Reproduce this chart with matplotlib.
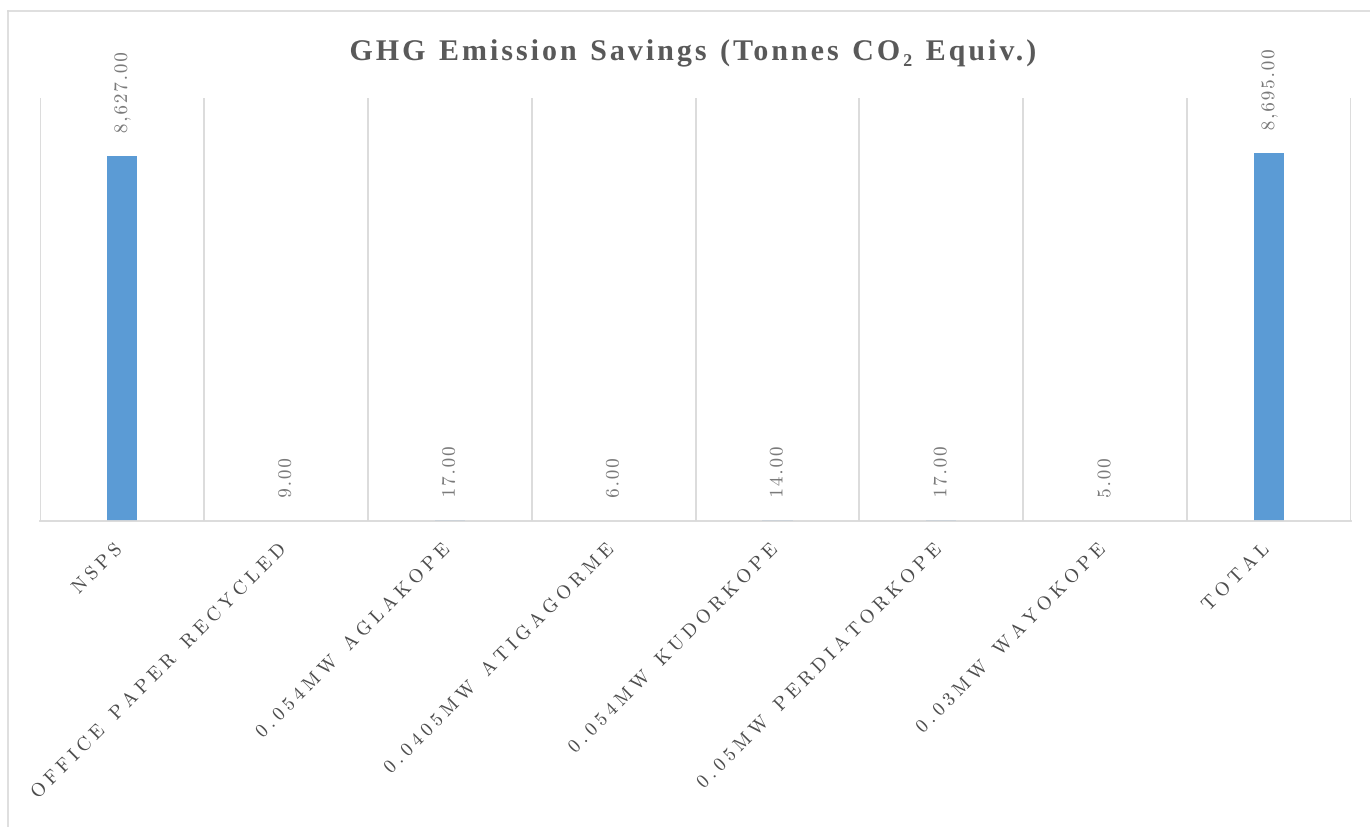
import numpy as np
import matplotlib
matplotlib.use("Agg")
import matplotlib.pyplot as plt
from matplotlib.path import Path
from matplotlib.patheffects import AbstractPathEffect
from matplotlib.textpath import TextToPath
from matplotlib.transforms import ScaledTranslation
from matplotlib.lines import Line2D

categories = ["NSPS", "OFFICE PAPER RECYCLED", "0.054MW AGLAKOPE",
              "0.0405MW ATIGAGORME", "0.054MW KUDORKOPE",
              "0.05MW PERDIATORKOPE", "0.03MW WAYOKOPE", "TOTAL"]
values = [8627, 9, 17, 6, 14, 17, 5, 8695]
title = "GHG Emission Savings (Tonnes CO\u2082 Equiv.)"

_t2p = TextToPath()


class Tracking(AbstractPathEffect):
    """Adds letter spacing to a text drawn as a path."""

    def __init__(self, artist, em, align):
        super().__init__()
        self.artist = artist
        self.em = em
        self.align = align

    def draw_path(self, renderer, gc, tpath, affine, rgbFace=None):
        s = self.artist.get_text()
        prop = self.artist.get_fontproperties()
        font = _t2p._get_font(prop)
        glyph_info, _, _ = _t2p.get_glyphs_with_font(font, s)
        xs = np.array([g[1] for g in glyph_info], dtype=float)
        n = len(xs)
        step = self.em * _t2p.FONT_SCALE
        verts = np.array(tpath.vertices, dtype=float).copy()
        codes = tpath.codes
        if codes is not None and n > 1:
            starts = np.flatnonzero(codes == Path.MOVETO)
            bounds = list(starts) + [len(verts)]
            for a, b in zip(bounds[:-1], bounds[1:]):
                mask = codes[a:b] != Path.CLOSEPOLY
                seg = verts[a:b, 0][mask]
                if len(seg) == 0:
                    continue
                cx = 0.5 * (seg.min() + seg.max())
                k = max(int(np.searchsorted(xs, cx, side="right")) - 1, 0)
                verts[a:b, 0] += step * k
            verts[:, 0] -= self.align * step * (n - 1)
        renderer.draw_path(gc, Path(verts, codes), affine, rgbFace)


W, H = 1370, 827
fig = plt.figure(figsize=(W / 100, H / 100), dpi=100)
fig.patch.set_facecolor("white")

border = "#D9D9D9"
# outer chart frame (left and top edges visible)
fig.add_artist(Line2D([8 / W, 8 / W], [0, 1 - 11 / H], transform=fig.transFigure,
                      color=border, lw=1.2))
fig.add_artist(Line2D([8 / W, 1], [1 - 11 / H, 1 - 11 / H], transform=fig.transFigure,
                      color=border, lw=1.2))

ax = fig.add_axes([40 / W, 1 - 521 / H, (1351 - 40) / W, (521 - 98) / H])
x = np.arange(len(categories))
ax.bar(x, values, width=0.185, color="#5B9BD5", zorder=3)
ax.set_xlim(-0.5, len(categories) - 0.5)
ax.set_ylim(0, 10000)

for sp in ["top", "right", "left"]:
    ax.spines[sp].set_visible(False)
ax.spines["bottom"].set_color(border)
ax.spines["bottom"].set_linewidth(1.3)
ax.spines["bottom"].set_zorder(4)

ax.set_yticks([])
ax.set_xticks(np.arange(-0.5, len(categories), 1.0), minor=True)
ax.grid(which="minor", axis="x", color=border, lw=1.3, zorder=1)
ax.tick_params(which="both", length=0)
ax.set_xticks(x)
ax.set_xticklabels(categories, rotation=45, ha="right", va="top",
                   rotation_mode="anchor", fontsize=13.7,
                   family=["cmr10", "DejaVu Serif"], color="#4D4D4D")
ax.tick_params(axis="x", which="major", pad=14)
shift = ScaledTranslation(-0.09, 0, fig.dpi_scale_trans)
for lab in ax.get_xticklabels():
    lab.set_transform(lab.get_transform() + shift)
    lab.set_path_effects([Tracking(lab, 0.24, 1.0)])

for xi, v in zip(x, values):
    t = ax.annotate(f"{v:,.2f}", xy=(xi, v), xytext=(0, 16.5),
                    textcoords="offset points", rotation=90,
                    ha="center", va="bottom", fontsize=13.7,
                    family=["cmr10", "DejaVu Serif"], color="#7A7A7A",
                    zorder=5)
    t.set_path_effects([Tracking(t, 0.1, 0.0)])

tt = fig.text(0.5059, 1 - 60 / H, title, ha="center", va="baseline",
              fontsize=21.6, fontweight="bold",
              family=["Liberation Serif", "DejaVu Serif"], color="#595959")
tt.set_path_effects([Tracking(tt, 0.1, 0.5)])

fig.savefig("out.png", dpi=100, facecolor="white")
